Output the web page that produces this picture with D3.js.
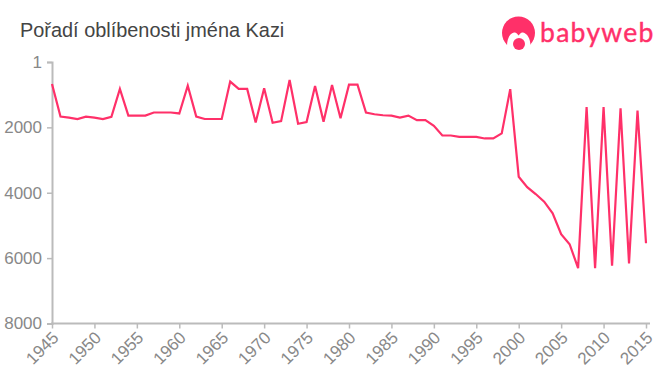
<!DOCTYPE html>
<html>
<head>
<meta charset="utf-8">
<script src="https://cdnjs.cloudflare.com/ajax/libs/d3/7.8.5/d3.min.js"></script>
<style>
    html, body { margin: 0; padding: 0; background: #fff; }
    svg { display: block; font-family: "Liberation Sans", Arial, sans-serif; }
</style>
</head>
<body>
<svg id="chart" width="660" height="375"></svg>
<script>
var title = "Pořadí oblíbenosti jména Kazi";
var brand = "babyweb";

var years = [1945,1946,1947,1948,1949,1950,1951,1952,1953,1954,
    1955,1956,1957,1958,1959,1960,1961,1962,1963,1964,
    1965,1966,1967,1968,1969,1970,1971,1972,1973,1974,
    1975,1976,1977,1978,1979,1980,1981,1982,1983,1984,
    1985,1986,1987,1988,1989,1990,1991,1992,1993,1994,
    1995,1996,1997,1998,1999,2000,2001,2002,2003,2004,
    2005,2006,2007,2008,2009,2010,2011,2012,2013,2014,2015];

var ranks = [673,1670,1705,1745,1675,1705,1745,1675,827,1640,
    1640,1640,1545,1545,1545,1575,725,1670,1745,1745,
    1745,600,825,825,1850,805,1860,1810,550,1890,
    1835,735,1825,705,1720,695,695,1545,1600,1630,
    1640,1700,1640,1780,1780,1950,2250,2250,2290,2290,
    2290,2340,2340,2185,830,3510,3830,4040,4275,4630,
    5265,5575,6305,1380,6310,1380,6235,1415,6160,1490,5545];

var xTicks = [1945,1950,1955,1960,1965,1970,1975,1980,1985,1990,1995,2000,2005,2010,2015];
var yTicks = [1,2000,4000,6000,8000];

var pink = "#ff3069";
var svg = d3.select("#chart");

var x = d3.scaleLinear().domain([1945, 2015]).range([52, 646]);
var y = d3.scaleLinear().domain([1, 8000]).range([62, 323.5]);

svg.append("text")
    .attr("x", 20)
    .attr("y", 37)
    .attr("fill", "#444")
    .style("font-size", "19.9px")
    .text(title);

// y axis
var yAxis = svg.append("g")
    .attr("transform", "translate(52,0)")
    .call(d3.axisLeft(y).tickValues(yTicks).tickSize(5).tickPadding(5).tickFormat(function (d) { return d; }));
yAxis.select(".domain").attr("stroke", "#bbb").attr("stroke-width", 2);
yAxis.selectAll(".tick line").attr("stroke", "#bbb").attr("stroke-width", 1.5);
yAxis.selectAll(".tick text")
    .attr("fill", "#888")
    .style("font-size", "17px")
    .style("font-family", "Liberation Sans");

// x axis
var xAxis = svg.append("g")
    .attr("transform", "translate(0,323.5)")
    .call(d3.axisBottom(x).tickValues(xTicks).tickSize(5).tickFormat(function (d) { return d; }));
xAxis.select(".domain").attr("stroke", "#bbb").attr("stroke-width", 2).attr("d", "M51,0H650");
xAxis.selectAll(".tick line").attr("stroke", "#bbb").attr("stroke-width", 1.5);
xAxis.selectAll(".tick text")
    .attr("fill", "#888")
    .attr("text-anchor", "end")
    .attr("x", 0)
    .attr("y", 0)
    .attr("dy", "0.35em")
    .attr("transform", "translate(3,11) rotate(-45)")
    .style("font-size", "17px")
    .style("font-family", "Liberation Sans");

var line = d3.line()
    .x(function (d, i) { return x(years[i]); })
    .y(function (d) { return y(d); });

svg.append("path")
    .datum(ranks)
    .attr("fill", "none")
    .attr("stroke", pink)
    .attr("stroke-width", 2.2)
    .attr("d", line);

// logo
var logo = svg.append("g").attr("transform", "translate(502,17)");
logo.append("circle").attr("cx", 16.5).attr("cy", 16).attr("r", 16.5).attr("fill", pink);
logo.append("path")
    .attr("d", "M0 27 L5 29 C5 21 8 16.5 12 15.5 C14 15 15.5 17 16.5 18.5 C18 17 19 15 21 15.5 C25 16.5 28.5 21 28.5 29 L33 27 L33 36 L0 36 Z")
    .attr("fill", "#fff");
logo.append("circle").attr("cx", 17).attr("cy", 27).attr("r", 6).attr("fill", pink);
svg.append("text")
    .attr("x", 540)
    .attr("y", 42)
    .attr("fill", pink)
    .attr("stroke", pink)
    .attr("stroke-width", 0.4)
    .style("font-family", "Lato")
    .style("font-size", "26.5px")
    .style("letter-spacing", "1.3px")
    .text(brand);
</script>
</body>
</html>
